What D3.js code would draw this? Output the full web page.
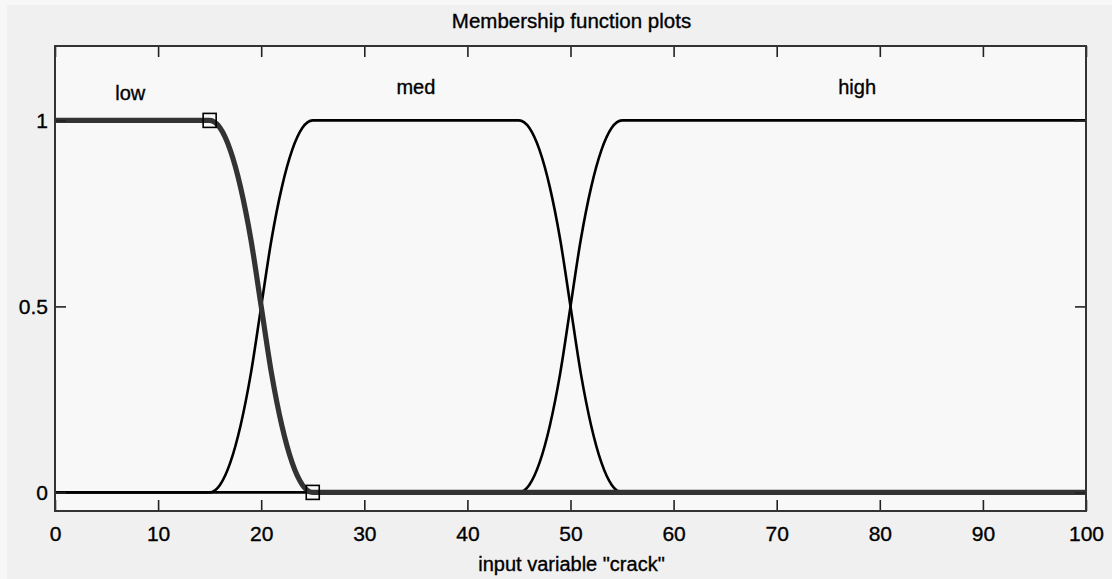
<!DOCTYPE html>
<html>
<head>
<meta charset="utf-8">
<script src="https://cdn.jsdelivr.net/npm/d3@7"></script>
<style>
  html, body { margin: 0; padding: 0; background: #f0f0f0; }
  svg { display: block; }
  text { font-family: "Liberation Sans", Arial, sans-serif; fill: #000; stroke: #000; stroke-width: 0.35px; }
</style>
</head>
<body>
<script>
// membership function samples
const lowX  = [0, 15, 16, 17, 18, 19, 20, 21, 22, 23, 24, 25, 100];
const lowY  = [1, 1, 0.98, 0.92, 0.82, 0.68, 0.5, 0.32, 0.18, 0.08, 0.02, 0, 0];
const medX  = [0, 15, 16, 17, 18, 19, 20, 21, 22, 23, 24, 25, 45, 46, 47, 48, 49, 50, 51, 52, 53, 54, 55, 100];
const medY  = [0, 0, 0.02, 0.08, 0.18, 0.32, 0.5, 0.68, 0.82, 0.92, 0.98, 1, 1, 0.98, 0.92, 0.82, 0.68, 0.5, 0.32, 0.18, 0.08, 0.02, 0, 0];
const highX = [0, 45, 46, 47, 48, 49, 50, 51, 52, 53, 54, 55, 100];
const highY = [0, 0, 0.02, 0.08, 0.18, 0.32, 0.5, 0.68, 0.82, 0.92, 0.98, 1, 1];

const mfNames  = ["low", "med", "high"];
const mfLabelX = [7.3, 35, 77.8];
const mfLabelY = [1.055, 1.07, 1.07];
// selected mf (low) vertex handles
const handleX = [15, 25];
const handleY = [1, 0];

const xTicks = [0, 10, 20, 30, 40, 50, 60, 70, 80, 90, 100];
const yTicks = [0, 0.5, 1];

const width = 1112, height = 579;
const margin = { top: 46, right: 26, bottom: 68, left: 55 };

const svg = d3.select("body").append("svg")
  .attr("width", width)
  .attr("height", height);

// lighter strip on top and left edges
svg.append("rect").attr("x", 0).attr("y", 0).attr("width", width).attr("height", 5).attr("fill", "#f7f7f7");
svg.append("rect").attr("x", 0).attr("y", 0).attr("width", 7).attr("height", height).attr("fill", "#f7f7f7");

const x = d3.scaleLinear().domain([0, 100]).range([margin.left, width - margin.right]);
const y = d3.scaleLinear().domain([-0.05, 1.2]).range([height - margin.bottom, margin.top]);

// plot area
svg.append("rect")
  .attr("x", x(0)).attr("y", y(1.2))
  .attr("width", x(100) - x(0)).attr("height", y(-0.05) - y(1.2))
  .attr("fill", "#f8f8f8");

const line = d3.line()
  .x(d => x(d[0]))
  .y(d => y(d[1]))
  .curve(d3.curveMonotoneX);

const thin = [d3.zip(medX, medY), d3.zip(highX, highY)];
svg.append("g").selectAll("path")
  .data(thin)
  .join("path")
  .attr("d", line)
  .attr("fill", "none")
  .attr("stroke", "#000")
  .attr("stroke-width", 2.6);

svg.append("path")
  .datum(d3.zip(lowX, lowY))
  .attr("d", line)
  .attr("fill", "none")
  .attr("stroke", "#333")
  .attr("stroke-width", 5.2);

svg.append("g").selectAll("rect")
  .data(d3.zip(handleX, handleY))
  .join("rect")
  .attr("x", d => x(d[0]) - 6.5)
  .attr("y", d => y(d[1]) - 7)
  .attr("width", 13)
  .attr("height", 14)
  .attr("fill", "none")
  .attr("stroke", "#000")
  .attr("stroke-width", 1.6);

// mf names
svg.append("g").selectAll("text")
  .data(mfNames)
  .join("text")
  .attr("x", (d, i) => x(mfLabelX[i]))
  .attr("y", (d, i) => y(mfLabelY[i]))
  .attr("text-anchor", "middle")
  .style("font-size", "20px")
  .text(d => d);

// axes, ticks point inward
const fmt = d => d3.format("")(d);
const styleAxis = g => {
  g.select(".domain").remove();
  g.selectAll(".tick line").attr("stroke", "#222").attr("stroke-width", 1.6);
  g.selectAll(".tick text").style("font-size", "21px").style("font-family", "'Liberation Sans', Arial, sans-serif");
};

svg.append("g")
  .attr("transform", `translate(0,${y(-0.05)})`)
  .call(d3.axisBottom(x).tickValues(xTicks).tickFormat(fmt).tickSize(-11).tickPadding(15))
  .call(styleAxis);

svg.append("g")
  .attr("transform", `translate(0,${y(1.2)})`)
  .call(d3.axisTop(x).tickValues(xTicks).tickFormat("").tickSize(-11))
  .call(styleAxis);

svg.append("g")
  .attr("transform", `translate(${x(0)},0)`)
  .call(d3.axisLeft(y).tickValues(yTicks).tickFormat(fmt).tickSize(-11).tickPadding(7))
  .call(styleAxis);

svg.append("g")
  .attr("transform", `translate(${x(100)},0)`)
  .call(d3.axisRight(y).tickValues(yTicks).tickFormat("").tickSize(-11))
  .call(styleAxis);

// frame
svg.append("rect")
  .attr("x", x(0)).attr("y", y(1.2))
  .attr("width", x(100) - x(0)).attr("height", y(-0.05) - y(1.2))
  .attr("fill", "none")
  .attr("stroke", "#333")
  .attr("stroke-width", 2);

svg.append("text")
  .attr("x", (x(0) + x(100)) / 2 + 1)
  .attr("y", 28)
  .attr("text-anchor", "middle")
  .style("font-size", "20.5px")
  .text("Membership function plots");

svg.append("text")
  .attr("x", (x(0) + x(100)) / 2 + 1)
  .attr("y", 571)
  .attr("text-anchor", "middle")
  .style("font-size", "20px")
  .text("input variable \"crack\"");
</script>
</body>
</html>
